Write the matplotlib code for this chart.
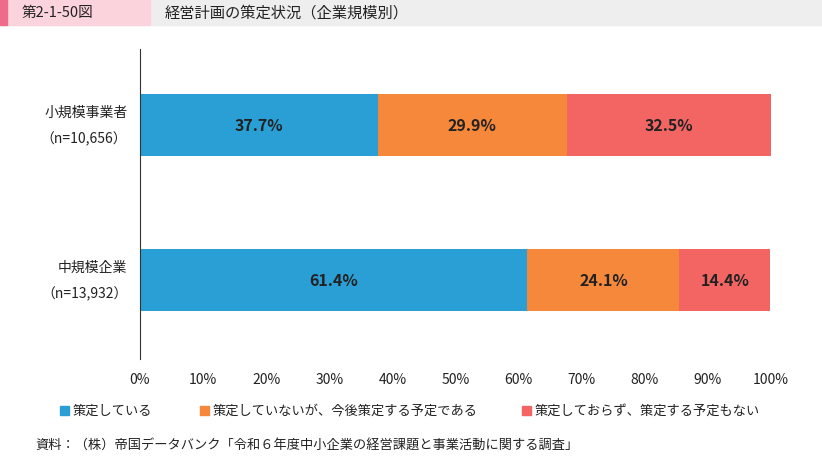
import matplotlib
matplotlib.use("Agg")
import matplotlib.pyplot as plt
from matplotlib.patches import Rectangle

plt.rcParams["font.family"] = "Noto Sans CJK JP"

categories = ["小規模事業者\n（n=10,656）", "中規模企業\n（n=13,932）"]
series_names = ["策定している", "策定していないが、今後策定する予定である", "策定しておらず、策定する予定もない"]
values = [[37.7, 61.4], [29.9, 24.1], [32.5, 14.4]]
colors = ["#2a9fd6", "#f5883b", "#f26563"]
ticks = [0, 10, 20, 30, 40, 50, 60, 70, 80, 90, 100]

fig = plt.figure(figsize=(8.22, 4.6), dpi=100)
ax = fig.add_axes([0.1703, 0.217, 0.7676, 0.674])
ypos = [1, 0]
left = [0, 0]
for name, vals, c in zip(series_names, values, colors):
    ax.barh(ypos, vals, left=left, height=0.4, color=c, label=name)
    for y, v, l in zip(ypos, vals, left):
        ax.text(l + v / 2, y, f"{v}%", ha="center", va="center", fontsize=11.5, fontweight="bold", color="#222222")
    left = [a + b for a, b in zip(left, vals)]
ax.set_xlim(0, 100)
ax.set_ylim(-0.51, 1.49)
ax.set_xticks(ticks)
ax.set_xticklabels([f"{t}%" for t in ticks], fontsize=10, color="#222222")
ax.set_yticks([])
for s in ["top", "right", "bottom"]:
    ax.spines[s].set_visible(False)
ax.spines["left"].set_color("#333333")
ax.tick_params(axis="x", length=0, pad=9)
for y, cat in zip(ypos, categories):
    ax.text(-2, y, cat, ha="right", va="center", fontsize=10, linespacing=2.0, color="#222222")

# header
fig.patches.append(Rectangle((0, 1 - 26 / 460), 1, 26 / 460, transform=fig.transFigure, color="#eeeeee", zorder=0))
fig.patches.append(Rectangle((0, 1 - 26 / 460), 150 / 822, 26 / 460, transform=fig.transFigure, color="#fbd3dc", zorder=1))
fig.patches.append(Rectangle((0, 1 - 26 / 460), 7 / 822, 26 / 460, transform=fig.transFigure, color="#ee6b8b", zorder=2))
fig.text(22 / 822, 1 - 13 / 460, "第2-1-50図", fontsize=10.5, va="center", color="#222222")
fig.text(165 / 822, 1 - 13 / 460, "経営計画の策定状況（企業規模別）", fontsize=11, va="center", color="#222222")

# legend
leg_x = [60, 200, 522]
for x, name, c in zip(leg_x, series_names, colors):
    fig.patches.append(Rectangle((x / 822, 1 - 416 / 460), 9 / 822, 9 / 460, transform=fig.transFigure, color=c))
    fig.text((x + 13) / 822, 1 - 411.5 / 460, name, fontsize=9.5, va="center", color="#222222")

fig.text(35 / 822, 1 - 446 / 460, "資料：（株）帝国データバンク「令和６年度中小企業の経営課題と事業活動に関する調査」", fontsize=9.5, va="center", color="#222222")
fig.savefig("out.png", dpi=100)
